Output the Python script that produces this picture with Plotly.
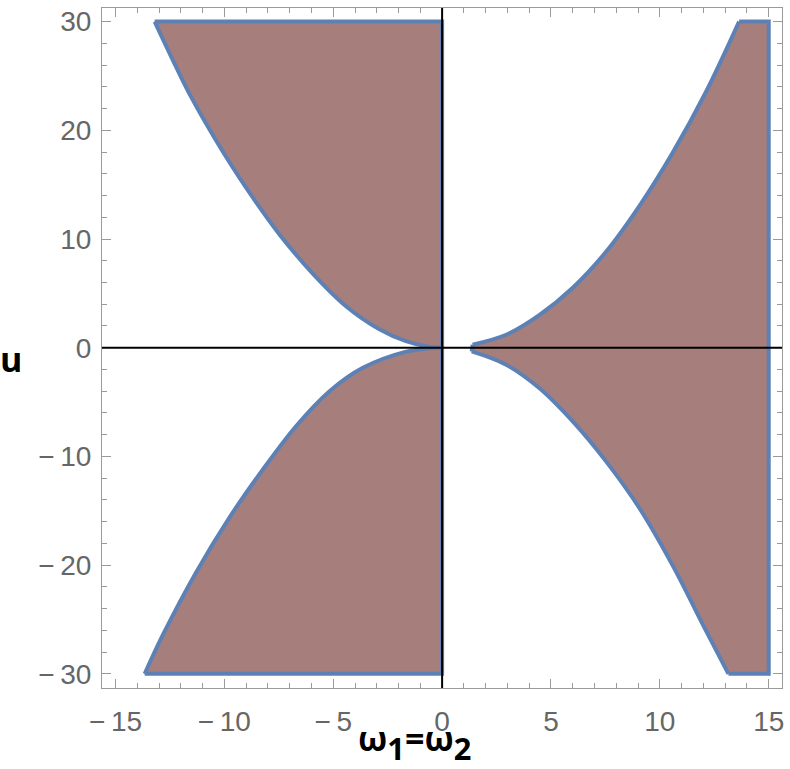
import plotly.graph_objects as go

# Boundary curves
ul_x = [-13.20, -12.40, -11.59, -10.06, -8.69, -7.46, -5.93, -4.40, -2.88, -1.66, -0.70, 0.0]
ul_u = [30.0, 26.6, 23.3, 18.0, 13.8, 10.4, 6.8, 3.8, 1.7, 0.6, 0.12, 0.0]

ll_x = [0.0, -0.70, -1.65, -3.64, -5.17, -6.70, -8.23, -9.76, -11.28, -12.82, -13.66]
ll_u = [0.0, -0.08, -0.36, -1.85, -4.0, -7.2, -11.2, -15.6, -20.6, -26.4, -30.0]

ur_x = [1.40, 2.94, 4.46, 5.99, 7.52, 9.05, 10.58, 12.11, 13.64]
ur_u = [0.28, 1.19, 3.0, 5.5, 8.8, 13.0, 17.9, 23.5, 30.0]

lr_x = [1.36, 2.94, 4.46, 5.99, 7.52, 9.05, 10.58, 12.11, 13.15]
lr_u = [-0.34, -1.56, -3.71, -6.76, -10.43, -14.72, -20.0, -26.0, -30.0]

u_top, u_bot = 30.0, -30.0
x_right = 15.0
x_range = [-15.62, 15.61]
u_range = [-31.3, 31.25]
x_ticks = [-15, -10, -5, 0, 5, 10, 15]
u_ticks = [-30, -20, -10, 0, 10, 20, 30]


def tick_text(v):
    return ("\u2212\u2009" + str(abs(v))) if v < 0 else str(v)


FILL = "#A67E7C"
EDGE = "#5E81B5"

fig = go.Figure()


def poly(xs, ys):
    fig.add_trace(go.Scatter(x=xs, y=ys, mode="lines", fill="toself",
                             fillcolor=FILL, line=dict(width=0, color=FILL),
                             hoverinfo="skip", showlegend=False))


def curve(xs, ys, shape="spline"):
    fig.add_trace(go.Scatter(x=xs, y=ys, mode="lines",
                             line=dict(color=EDGE, width=4, shape=shape),
                             hoverinfo="skip", showlegend=False))


# upper-left region
poly(ul_x + [0.0, ul_x[0]], ul_u + [u_top, u_top])
# lower-left region
poly(ll_x + [0.0, 0.0], ll_u + [u_bot, 0.0])
# right region
rx = ur_x + [x_right, x_right] + lr_x[::-1] + [ur_x[0]]
ru = ur_u + [u_top, u_bot] + lr_u[::-1] + [ur_u[0]]
poly(rx, ru)

# boundaries
curve(ul_x, ul_u)
curve([ul_x[0], 0.0, 0.0], [u_top, u_top, 0.0], "linear")
curve(ll_x, ll_u)
curve([ll_x[-1], 0.0, 0.0], [u_bot, u_bot, 0.0], "linear")
curve(ur_x, ur_u)
curve(lr_x, lr_u)
curve([ur_x[-1], x_right, x_right, lr_x[-1]], [u_top, u_top, u_bot, u_bot], "linear")
curve([lr_x[0], ur_x[0]], [lr_u[0], ur_u[0]], "linear")

AX = "#9a9a9a"
TICKFONT = dict(family="Liberation Sans, Arial", size=28, color="#666666")

fig.update_xaxes(range=x_range, tickvals=x_ticks, ticktext=[tick_text(v) for v in x_ticks],
                 ticks="inside", ticklen=9,
                 tickwidth=1, tickcolor=AX, showline=True, linecolor=AX,
                 linewidth=1, mirror="ticks", showgrid=False, zeroline=False,
                 tickfont=TICKFONT, ticklabelstandoff=8,
                 minor=dict(dtick=1, tick0=0, ticks="inside", ticklen=5,
                            tickcolor=AX, showgrid=False))
fig.update_yaxes(range=u_range, tickvals=u_ticks, ticktext=[tick_text(v) for v in u_ticks],
                 ticks="inside", ticklen=9,
                 tickwidth=1, tickcolor=AX, showline=True, linecolor=AX,
                 linewidth=1, mirror="ticks", showgrid=False, zeroline=False,
                 tickfont=TICKFONT, ticklabelstandoff=4,
                 minor=dict(dtick=2, tick0=0, ticks="inside", ticklen=5,
                            tickcolor=AX, showgrid=False))

# axes through origin
fig.add_shape(type="line", xref="x", yref="paper", x0=0, x1=0, y0=0, y1=1,
              line=dict(color="black", width=2), layer="above")
fig.add_shape(type="line", xref="paper", yref="y", x0=0, x1=1, y0=0, y1=0,
              line=dict(color="black", width=2), layer="above")

LABELFONT = dict(family="Open Sans", size=34, color="black")
fig.add_annotation(text="<b>u</b>", xref="paper", yref="paper", x=-0.134, y=0.484,
                   xanchor="center", yanchor="middle", showarrow=False, font=LABELFONT)
fig.add_annotation(text='<b>ω<span style="font-size:44px"><sub>1</sub></span>=ω'
                        '<span style="font-size:44px"><sub>2</sub></span></b>',
                   xref="paper", yref="paper",
                   x=0.459, y=-0.1225, xanchor="center", yanchor="bottom",
                   showarrow=False, font=LABELFONT)

fig.update_layout(width=790, height=769, margin=dict(l=102, r=7, t=6, b=81),
                  plot_bgcolor="white", paper_bgcolor="white")

fig.write_html("out.html")
